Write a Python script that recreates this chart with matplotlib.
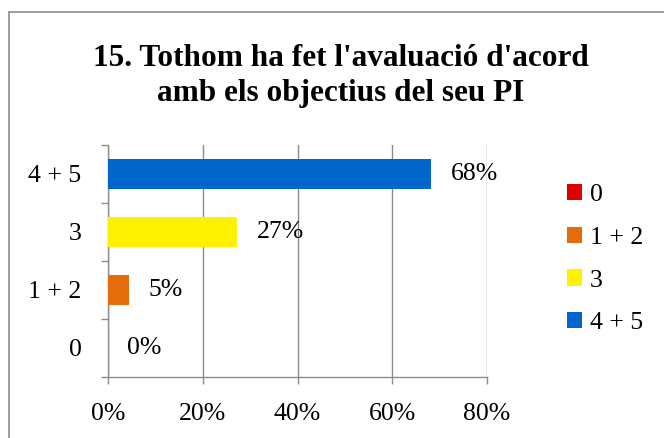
import matplotlib.pyplot as plt
from matplotlib.patches import Patch, Rectangle

# data
categories = ['0', '1 + 2', '3', '4 + 5']
values = [0.0, 4.5, 27.3, 68.2]
value_labels = ['0%', '5%', '27%', '68%']
colors = ['#e00000', '#e46c0a', '#fff200', '#0066cc']
xticks = [0, 20, 40, 60, 80]
xtick_labels = ['0%', '20%', '40%', '60%', '80%']

plt.rcParams['font.family'] = ['Liberation Serif', 'DejaVu Serif']

fig = plt.figure(figsize=(6.64, 4.38), dpi=100)

# chart border (runs off the right and bottom edge)
fig.patches.append(Rectangle((9 / 664, -0.1), 1.2, 1 - 12 / 438 + 0.1,
                             transform=fig.transFigure, fill=False,
                             edgecolor='#8c8c8c', linewidth=1.2))

fig.text(0.513, 1 - 76 / 438, "15. Tothom ha fet l'avaluació d'acord\n"
         "amb els objectius del seu PI", ha='center', va='center',
         fontsize=22.5, fontweight='bold', linespacing=1.3)

ax = fig.add_axes([108 / 664, 61 / 438, 379 / 664, 232 / 438])
ypos = range(len(categories))
ax.barh(ypos, values, height=0.52, color=colors, zorder=3)

for y, v, lab in zip(ypos, values, value_labels):
    ax.annotate(lab, (v, y), xytext=(14, 0), textcoords='offset points',
                ha='left', va='center', fontsize=18.5)

ax.set_xlim(0, 80)
ax.set_ylim(-0.5, 3.5)
ax.set_xticks(xticks)
ax.set_xticklabels(xtick_labels, fontsize=18.5)
ax.set_yticks(list(ypos))
ax.set_yticklabels(categories, fontsize=18.5)
ax.set_yticks([i - 0.5 for i in range(len(categories) + 1)], minor=True)
ax.tick_params(axis='y', which='major', length=0, pad=19)
ax.tick_params(axis='y', which='minor', length=5, color='#8c8c8c', width=1)
ax.tick_params(axis='x', length=5, color='#8c8c8c', width=1, pad=14)

ax.grid(axis='x', color='#8c8c8c', linewidth=1, zorder=0)
for s in ['top', 'right']:
    ax.spines[s].set_visible(False)
for s in ['left', 'bottom']:
    ax.spines[s].set_color('#8c8c8c')
    ax.spines[s].set_linewidth(1)

handles = [Patch(facecolor=c, edgecolor='none') for c in colors]
fig.legend(handles, categories, loc='upper left',
           bbox_to_anchor=(554 / 664, 1 - 171 / 438), frameon=False,
           fontsize=18.5, handlelength=0.6, handleheight=0.6,
           handletextpad=0.3, labelspacing=0.8, borderpad=0)

fig.savefig('out.png', dpi=100)
